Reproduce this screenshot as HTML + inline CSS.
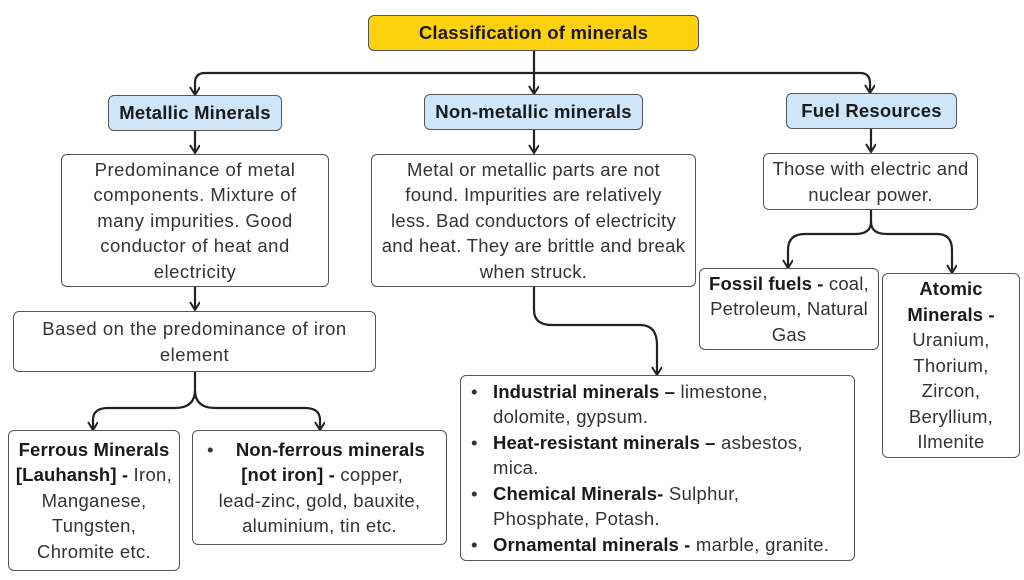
<!DOCTYPE html>
<html><head><meta charset="utf-8"><style>
html,body{margin:0;padding:0;background:#fff;}
body{width:1024px;height:580px;position:relative;overflow:hidden;font-family:"Liberation Sans",sans-serif;color:#333;}
.b{position:absolute;box-sizing:border-box;border:1.5px solid #555;border-radius:6px;background:#fff;text-align:center;font-size:18.5px;line-height:25.5px;display:flex;flex-direction:column;justify-content:center;letter-spacing:0.5px;white-space:nowrap;}
.h{background:#cfe6f9;color:#1a1a1a;font-weight:bold;font-size:18.5px;letter-spacing:0.2px;}
.t{background:#fdd20c;color:#1a1a1a;font-weight:bold;font-size:18.5px;letter-spacing:0.2px;}
b{color:#1a1a1a;letter-spacing:0.1px;}
svg{position:absolute;left:0;top:0;}
.l{text-align:left;padding-left:32px;}
.l div{position:relative;}
.l div.p:before{content:"•";position:absolute;left:-22px;}
</style></head><body>
<svg width="1024" height="580">
<defs><marker id="a" markerWidth="10" markerHeight="12" refX="9" refY="5" orient="auto" markerUnits="userSpaceOnUse"><path d="M1,0 L9,5 L1,10" fill="none" stroke="#222" stroke-width="2"/></marker></defs>
<g fill="none" stroke="#222" stroke-width="2.2">
<path d="M534,51 V94" marker-end="url(#a)"/>
<path d="M534,73 H205 Q195,73 195,83 V95" marker-end="url(#a)"/>
<path d="M534,73 H860 Q870,73 870,83 V93" marker-end="url(#a)"/>
<path d="M195,131 V153" marker-end="url(#a)"/>
<path d="M534,130 V153" marker-end="url(#a)"/>
<path d="M871,129 V152" marker-end="url(#a)"/>
<path d="M195,287 V310" marker-end="url(#a)"/>
<path d="M195,372 V390 Q195,408 175,408 H108 Q93,408 93,420 V430" marker-end="url(#a)"/>
<path d="M195,390 Q195,408 215,408 H305 Q320,408 320,420 V430" marker-end="url(#a)"/>
<path d="M534,287 V310 Q534,325 552,325 H640 Q657,325 657,345 V375" marker-end="url(#a)"/>
<path d="M871,210 V222 Q871,234 855,234 H805 Q788,234 788,250 V268" marker-end="url(#a)"/>
<path d="M871,222 Q871,234 887,234 H937 Q952,234 952,250 V273" marker-end="url(#a)"/>
</g></svg>
<div class="b t" style="left:368px;top:15px;width:331px;height:36px;">Classification of minerals</div>
<div class="b h" style="left:108px;top:95px;width:174px;height:36px;">Metallic Minerals</div>
<div class="b h" style="left:424px;top:94px;width:219px;height:36px;">Non-metallic minerals</div>
<div class="b h" style="left:786px;top:93px;width:171px;height:36px;">Fuel Resources</div>
<div class="b" style="left:61px;top:154px;width:268px;height:133px;">Predominance of metal<br>components. Mixture of<br>many impurities. Good<br>conductor of heat and<br>electricity</div>
<div class="b" style="left:371px;top:154px;width:325px;height:133px;letter-spacing:0.3px;">Metal or metallic parts are not<br>found. Impurities are relatively<br>less. Bad conductors of electricity<br>and heat. They are brittle and break<br>when struck.</div>
<div class="b" style="left:763px;top:153px;width:215px;height:57px;letter-spacing:0.3px;">Those with electric and<br>nuclear power.</div>
<div class="b" style="left:13px;top:311px;width:363px;height:61px;">Based on the predominance of iron<br>element</div>
<div class="b" style="left:8px;top:430px;width:172px;height:141px;letter-spacing:0.3px;"><span><b>Ferrous Minerals</b><br><b>[Lauhansh] -</b> Iron,<br>Manganese,<br>Tungsten,<br>Chromite etc.</span></div>
<div class="b" style="left:192px;top:430px;width:255px;height:115px;letter-spacing:0.3px;"><span><span style="position:absolute;left:14px;">•</span>&nbsp;&nbsp;&nbsp;&nbsp;<b>Non-ferrous minerals</b><br>&nbsp;<b>[not iron] -</b> copper,<br>lead-zinc, gold, bauxite,<br>aluminium, tin etc.</span></div>
<div class="b l" style="left:460px;top:375px;width:395px;height:186px;letter-spacing:0.3px;">
<div class="p"><b>Industrial minerals –</b> limestone,</div><div>dolomite, gypsum.</div>
<div class="p"><b>Heat-resistant minerals –</b> asbestos,</div><div>mica.</div>
<div class="p"><b>Chemical Minerals-</b> Sulphur,</div><div>Phosphate, Potash.</div>
<div class="p"><b>Ornamental minerals -</b> marble, granite.</div></div>
<div class="b" style="left:699px;top:268px;width:180px;height:82px;letter-spacing:0.2px;"><span><b>Fossil fuels -</b> coal,<br>Petroleum, Natural<br>Gas</span></div>
<div class="b" style="left:882px;top:273px;width:138px;height:185px;letter-spacing:0.3px;"><span><b>Atomic</b><br><b>Minerals -</b><br>Uranium,<br>Thorium,<br>Zircon,<br>Beryllium,<br>Ilmenite</span></div>
</body></html>
